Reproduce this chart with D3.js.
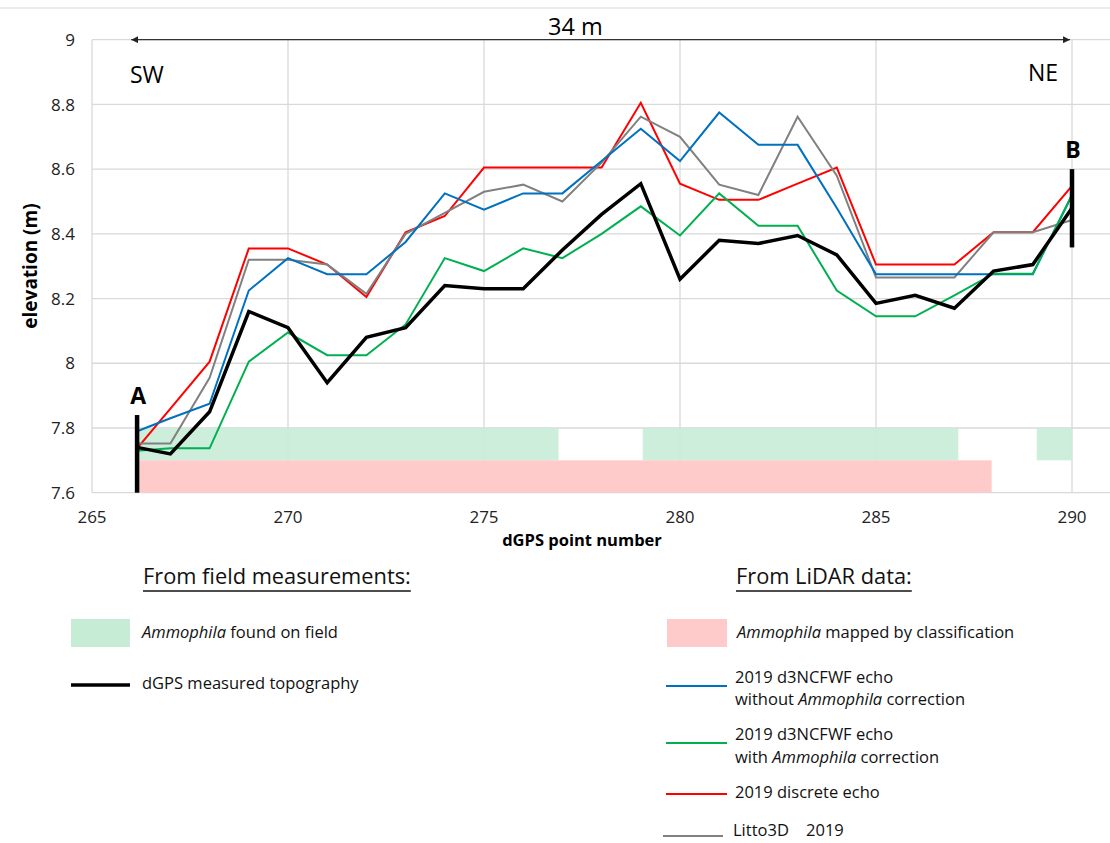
<!DOCTYPE html>
<html>
<head>
<meta charset='utf-8'>
<title>dGPS profile</title>
<style>
  body { margin: 0; background: #fff; }
  svg { display: block; font-family: "Open Sans", "Noto Sans", sans-serif; }
</style>
</head>
<body>
<svg width="1110" height="843"></svg>
<script src="https://d3js.org/d3.v7.min.js"></script>
<script>
    // dGPS point numbers (first point sits a little after 266)
    const points = [266.15, 267, 268, 269, 270, 271, 272, 273, 274, 275, 276, 277, 278,
                    279, 280, 281, 282, 283, 284, 285, 286, 287, 288, 289, 290]

    const dgps      = [7.74, 7.72, 7.85, 8.16, 8.11, 7.94, 8.08, 8.11, 8.24, 8.23, 8.23, 8.35, 8.46,
                       8.555, 8.26, 8.38, 8.37, 8.395, 8.335, 8.185, 8.21, 8.17, 8.285, 8.305, 8.48]
    const noCorr    = [7.79, 7.83, 7.875, 8.225, 8.325, 8.275, 8.275, 8.375, 8.525, 8.475, 8.525, 8.525, 8.625,
                       8.725, 8.625, 8.775, 8.675, 8.675, 8.48, 8.275, 8.275, 8.275, 8.275, 8.275, 8.52]
    const withCorr  = [7.73, 7.737, 7.737, 8.005, 8.095, 8.025, 8.025, 8.12, 8.325, 8.285, 8.355, 8.325, 8.4,
                       8.485, 8.395, 8.525, 8.425, 8.425, 8.225, 8.145, 8.145, 8.21, 8.277, 8.277, 8.52]
    const discrete  = [7.737, 7.86, 8.005, 8.355, 8.355, 8.305, 8.205, 8.405, 8.455, 8.605, 8.605, 8.605, 8.605,
                       8.805, 8.555, 8.505, 8.505, 8.555, 8.605, 8.305, 8.305, 8.305, 8.405, 8.405, 8.548]
    const litto3d   = [7.752, 7.752, 7.955, 8.32, 8.32, 8.305, 8.215, 8.4, 8.465, 8.53, 8.552, 8.5, 8.62,
                       8.762, 8.7, 8.552, 8.52, 8.762, 8.58, 8.265, 8.265, 8.265, 8.405, 8.405, 8.443]

    // Ammophila stretches along the profile: [from, to]
    const fieldAmmophila = [[266.15, 276.9], [279.05, 287.1], [289.1, 290]]
    const lidarAmmophila = [[266.15, 287.95]]

    const yTicks = [7.6, 7.8, 8, 8.2, 8.4, 8.6, 8.8, 9]
    const xTicks = [265, 270, 275, 280, 285, 290]

    const series = [
        {name: "2019 discrete echo", values: discrete, color: "#ff0000", width: 2},
        {name: "Litto3D 2019", values: litto3d, color: "#808080", width: 2},
        {name: "without correction", values: noCorr, color: "#0070c0", width: 2},
        {name: "with correction", values: withCorr, color: "#00b050", width: 2},
        {name: "dGPS", values: dgps, color: "#000000", width: 3.5}
    ]

    const svg = d3.select("svg")
    const W = 1110

    const x = d3.scaleLinear().domain([265, 290]).range([92, 1072])
    const y = d3.scaleLinear().domain([7.6, 9]).range([492.7, 39.7])

    // frame line at the very top
    svg.append("line")
        .attr("x1", 0).attr("x2", W).attr("y1", 8).attr("y2", 8)
        .attr("stroke", "#d9d9d9").attr("stroke-width", 1.2)

    // grid
    svg.append("g")
        .selectAll("line")
        .data(yTicks)
        .join("line")
        .attr("x1", x(265)).attr("x2", W)
        .attr("y1", d => y(d)).attr("y2", d => y(d))
        .attr("stroke", "#d9d9d9").attr("stroke-width", 1.3)

    svg.append("g")
        .selectAll("line")
        .data(xTicks)
        .join("line")
        .attr("x1", d => x(d)).attr("x2", d => x(d))
        .attr("y1", y(9)).attr("y2", y(7.6))
        .attr("stroke", "#d9d9d9").attr("stroke-width", 1.3)

    // bands
    svg.append("g")
        .selectAll("rect")
        .data(fieldAmmophila)
        .join("rect")
        .attr("x", d => x(d[0]))
        .attr("width", d => x(d[1]) - x(d[0]))
        .attr("y", y(7.8))
        .attr("height", y(7.7) - y(7.8))
        .attr("fill", "#c6ecd6")
        .attr("fill-opacity", 0.9)

    svg.append("g")
        .selectAll("rect")
        .data(lidarAmmophila)
        .join("rect")
        .attr("x", d => x(d[0]))
        .attr("width", d => x(d[1]) - x(d[0]))
        .attr("y", y(7.7))
        .attr("height", y(7.6) - y(7.7))
        .attr("fill", "#ffcaca")

    // axis labels
    svg.append("g")
        .attr("font-size", 17)
        .attr("fill", "#222")
        .attr("text-anchor", "end")
        .selectAll("text")
        .data(yTicks)
        .join("text")
        .attr("x", 75)
        .attr("y", d => y(d))
        .attr("dy", "0.36em")
        .text(d => d)

    svg.append("g")
        .attr("font-size", 17)
        .attr("fill", "#222")
        .attr("text-anchor", "middle")
        .selectAll("text")
        .data(xTicks)
        .join("text")
        .attr("x", d => x(d))
        .attr("y", 523)
        .text(d => d)

    svg.append("text")
        .attr("x", 582).attr("y", 546)
        .attr("text-anchor", "middle")
        .attr("font-size", 16.5).attr("font-weight", "bold")
        .text("dGPS point number")

    svg.append("text")
        .attr("transform", "translate(37,266) rotate(-90)")
        .attr("text-anchor", "middle")
        .attr("font-size", 19).attr("font-weight", "bold")
        .text("elevation (m)")

    // lines
    const line = vals => d3.line()
        .x((d, i) => x(points[i]))
        .y(d => y(d))(vals)

    svg.append("g")
        .attr("fill", "none")
        .attr("stroke-linejoin", "miter")
        .selectAll("path")
        .data(series)
        .join("path")
        .attr("d", d => line(d.values))
        .attr("stroke", d => d.color)
        .attr("stroke-width", d => d.width)

    // profile ends A and B
    const ends = [
        {label: "A", at: 266.15, from: 7.6, to: 7.84, labelY: 7.875},
        {label: "B", at: 290, from: 8.358, to: 8.6, labelY: 8.635}
    ]
    svg.append("g")
        .selectAll("line")
        .data(ends)
        .join("line")
        .attr("x1", d => x(d.at)).attr("x2", d => x(d.at))
        .attr("y1", d => y(d.from)).attr("y2", d => y(d.to))
        .attr("stroke", "#000").attr("stroke-width", 4.5)

    svg.append("g")
        .attr("font-size", 23).attr("font-weight", "bold")
        .attr("text-anchor", "middle")
        .selectAll("text")
        .data(ends)
        .join("text")
        .attr("x", d => x(d.at) + 1)
        .attr("y", d => y(d.labelY))
        .text(d => d.label)

    // 34 m arrow
    const defs = svg.append("defs")
    defs.append("marker")
        .attr("id", "head")
        .attr("viewBox", "0 0 10 10")
        .attr("refX", 10).attr("refY", 5)
        .attr("markerWidth", 7).attr("markerHeight", 7)
        .attr("markerUnits", "userSpaceOnUse")
        .attr("orient", "auto-start-reverse")
        .append("path")
        .attr("d", "M0,0 L10,5 L0,10 Z")
        .attr("fill", "#222")
    svg.append("line")
        .attr("x1", x(266)).attr("x2", x(289.95))
        .attr("y1", y(9)).attr("y2", y(9))
        .attr("stroke", "#333").attr("stroke-width", 1.3)
        .attr("marker-start", "url(#head)")
        .attr("marker-end", "url(#head)")

    svg.append("text")
        .attr("x", x(277.33)).attr("y", 35)
        .attr("text-anchor", "middle").attr("font-size", 23.5)
        .text("34 m")
    svg.append("text")
        .attr("x", 130).attr("y", 83)
        .attr("font-size", 23)
        .text("SW")
    svg.append("text")
        .attr("x", 1058).attr("y", 81)
        .attr("text-anchor", "end").attr("font-size", 23)
        .text("NE")

    // legend
    const lg = svg.append("g").attr("font-size", 16.5).attr("fill", "#111")

    const heading = (x0, y0, txt) => {
        const t = lg.append("text").attr("x", x0).attr("y", y0).attr("font-size", 21.8).text(txt)
        const w = t.node().getComputedTextLength()
        lg.append("line").attr("x1", x0).attr("x2", x0 + w)
            .attr("y1", y0 + 7).attr("y2", y0 + 7)
            .attr("stroke", "#111").attr("stroke-width", 1.3)
    }
    heading(143, 584, "From field measurements:")
    heading(736, 584, "From LiDAR data:")

    const italicText = (x0, y0, parts) => {
        const t = lg.append("text").attr("x", x0).attr("y", y0).attr("dy", "0.35em")
        parts.forEach(p => {
            t.append("tspan").attr("font-style", p[1] ? "italic" : "normal").text(p[0])
        })
    }

    lg.append("rect").attr("x", 71).attr("y", 619).attr("width", 59).attr("height", 28).attr("fill", "#c6ecd6")
    italicText(142, 632, [["Ammophila", true], [" found on field", false]])

    lg.append("line").attr("x1", 71).attr("x2", 130).attr("y1", 685).attr("y2", 685)
        .attr("stroke", "#000").attr("stroke-width", 3.5)
    italicText(142, 683, [["dGPS measured topography", false]])

    lg.append("rect").attr("x", 667).attr("y", 619).attr("width", 60).attr("height", 28).attr("fill", "#ffcaca")
    italicText(737, 632, [["Ammophila", true], [" mapped by classification", false]])

    lg.append("line").attr("x1", 666).attr("x2", 727).attr("y1", 686).attr("y2", 686)
        .attr("stroke", "#0070c0").attr("stroke-width", 2)
    italicText(735, 677, [["2019 d3NCFWF echo", false]])
    italicText(735, 699, [["without ", false], ["Ammophila", true], [" correction", false]])

    lg.append("line").attr("x1", 666).attr("x2", 727).attr("y1", 743).attr("y2", 743)
        .attr("stroke", "#00b050").attr("stroke-width", 2)
    italicText(735, 734, [["2019 d3NCFWF echo", false]])
    italicText(735, 757, [["with ", false], ["Ammophila", true], [" correction", false]])

    lg.append("line").attr("x1", 666).attr("x2", 727).attr("y1", 794).attr("y2", 794)
        .attr("stroke", "#ff0000").attr("stroke-width", 2)
    italicText(735, 792, [["2019 discrete echo", false]])

    lg.append("line").attr("x1", 663).attr("x2", 723).attr("y1", 836).attr("y2", 836)
        .attr("stroke", "#808080").attr("stroke-width", 2)
    lg.append("text").attr("x", 733).attr("y", 830).attr("dy", "0.35em")
        .attr("xml:space", "preserve").style("white-space", "pre")
        .text("Litto3D    2019")
</script>
</body>
</html>
